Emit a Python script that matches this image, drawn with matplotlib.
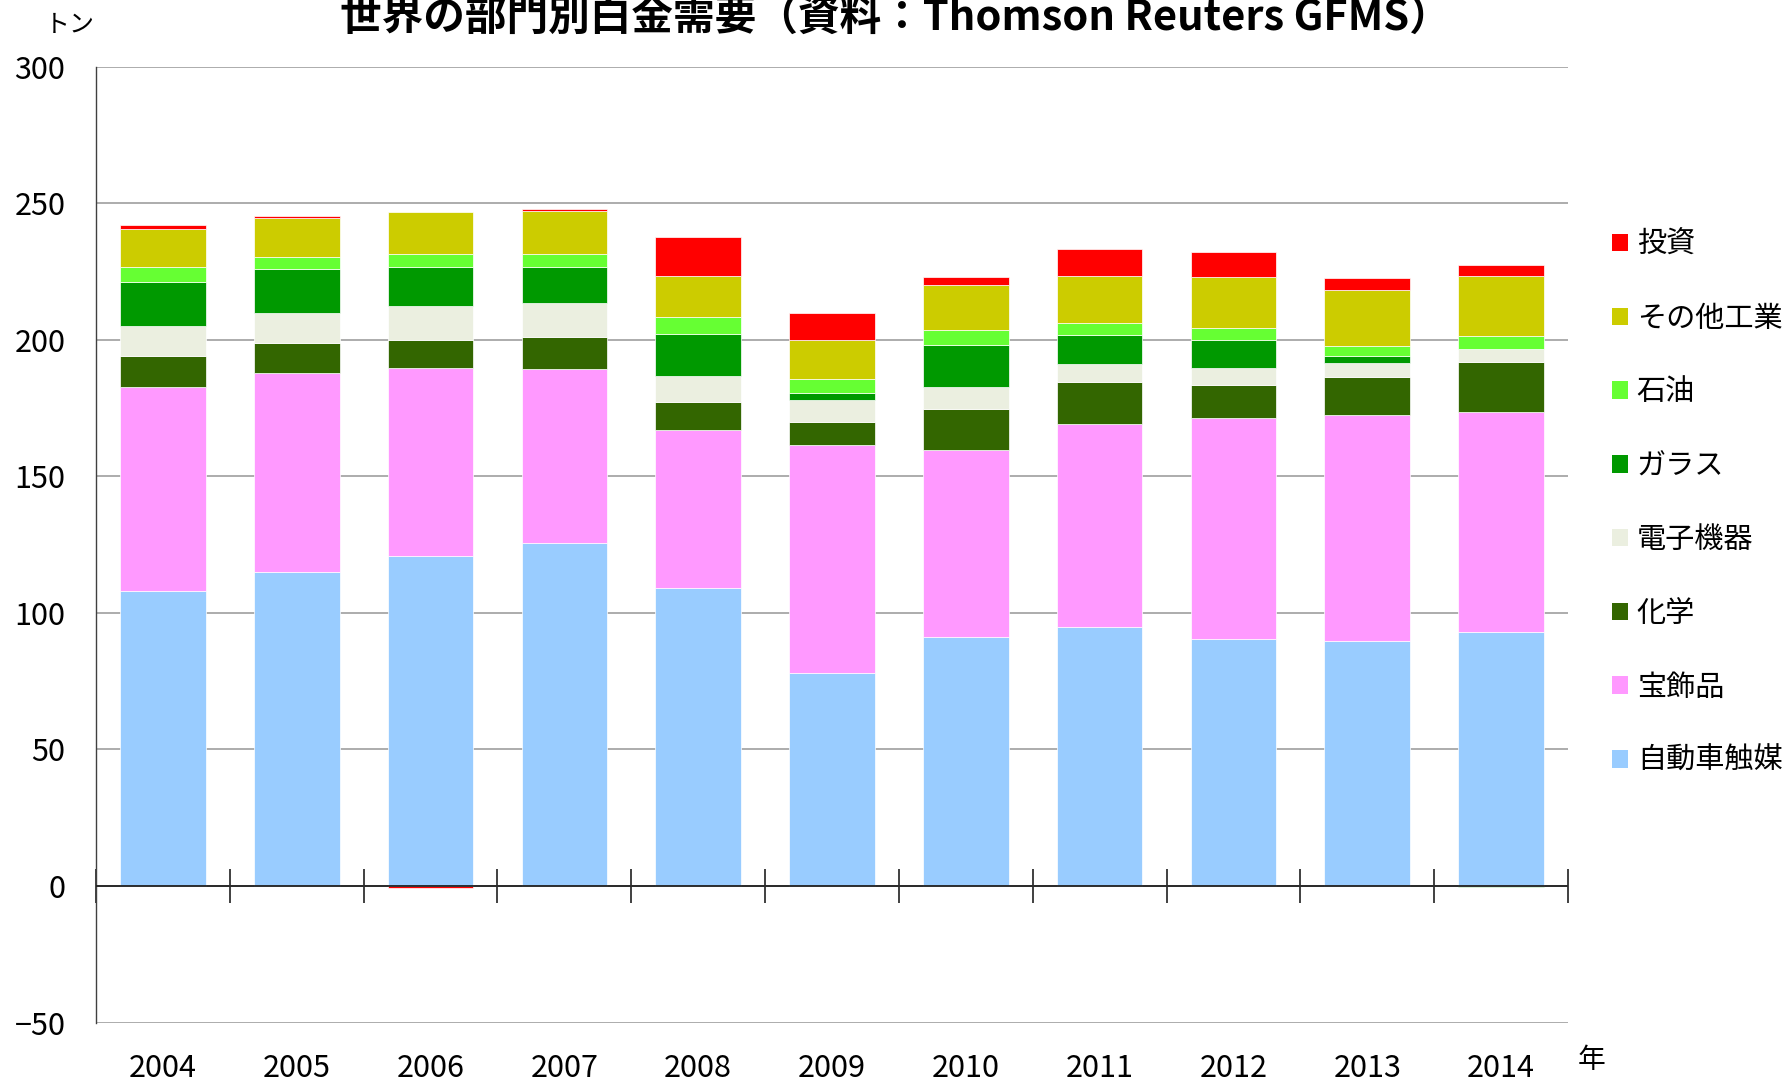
import matplotlib
matplotlib.use('Agg')
import matplotlib.pyplot as plt
import numpy as np
from matplotlib.patches import Patch

plt.rcParams['font.family'] = ['Noto Sans CJK JP', 'DejaVu Sans']

years = ['2004', '2005', '2006', '2007', '2008', '2009', '2010', '2011', '2012', '2013', '2014']

auto = [108.0, 115.1, 120.9, 125.5, 109.2, 78.0, 91.3, 94.8, 90.3, 89.9, 92.9]
jewelry = [74.6, 72.9, 68.9, 63.8, 57.6, 83.5, 68.4, 74.3, 80.9, 82.6, 80.6]
chemical = [11.6, 10.7, 10.2, 11.6, 10.6, 8.4, 15.1, 15.5, 12.4, 13.8, 18.2]
electronics = [10.8, 11.0, 12.4, 12.5, 9.2, 8.0, 7.9, 6.6, 6.2, 5.2, 5.0]
glass = [16.3, 16.1, 14.3, 13.3, 15.7, 2.7, 15.5, 10.6, 10.3, 2.4, -0.5]
oil = [5.2, 4.4, 4.9, 4.9, 6.1, 5.2, 5.4, 4.4, 4.4, 4.0, 4.7]
other = [14.2, 14.5, 15.1, 15.4, 15.1, 14.2, 16.4, 17.3, 18.6, 20.2, 22.1]
investment = [1.3, 0.5, -0.6, 0.9, 14.1, 9.7, 3.1, 9.8, 8.9, 4.5, 4.0]

series_names = ['自動車触媒', '宝飾品', '化学', '電子機器', 'ガラス', '石油', 'その他工業', '投資']
series_values = [auto, jewelry, chemical, electronics, glass, oil, other, investment]
series_colors = ['#99CCFF', '#FF99FF', '#336600', '#EBEFE0', '#009900', '#66FF33', '#CCCC00', '#FF0000']

title = '世界の部門別白金需要（資料：Thomson Reuters GFMS）'

W, H = 1791, 1081
fig = plt.figure(figsize=(W / 100, H / 100), dpi=100)
ax = fig.add_axes([96 / W, 1 - 1022.6 / H, (1568 - 96) / W, (1022.6 - 66.7) / H])

x = np.arange(len(years))
pos_bottom = np.zeros(len(years))
neg_bottom = np.zeros(len(years))
for name, vals, col in zip(series_names, series_values, series_colors):
    v = np.array(vals, dtype=float)
    b = np.where(v >= 0, pos_bottom, neg_bottom)
    ax.bar(x, v, width=0.64, bottom=b, color=col, edgecolor='white', linewidth=0.5, zorder=2)
    pos_bottom = pos_bottom + np.where(v >= 0, v, 0)
    neg_bottom = neg_bottom + np.where(v < 0, v, 0)

ax.set_xlim(-0.5, len(years) - 0.5)
ax.set_ylim(-50, 300)
ax.set_yticks(np.arange(-50, 301, 50))
ax.yaxis.grid(True, color='#A6A6A6', linewidth=1.3, zorder=0)
ax.set_axisbelow(True)

for s in ['top', 'right', 'bottom']:
    ax.spines[s].set_visible(False)
ax.spines['left'].set_color('#404040')
ax.spines['left'].set_linewidth(1.0)

ax.set_xticks(x)
ax.set_xticklabels(years)
ax.tick_params(axis='x', length=0, pad=22, labelsize=22)
ax.tick_params(axis='y', length=0, pad=22, labelsize=22)

# zero axis line with category boundary ticks
ax.axhline(0, color='#202020', linewidth=1.3, zorder=3)
sec = ax.secondary_xaxis(0, transform=ax.transData)
sec.set_xticks(np.arange(len(years) + 1) - 0.5)
sec.tick_params(direction='inout', length=24, width=1.2, color='#202020', labelbottom=False)
sec.spines['bottom'].set_visible(False)

fig.text(0.5, 1 - 19 / H, title, ha='center', va='center', fontsize=30, fontweight='bold')
fig.text(70 / W, 1 - 25 / H, 'トン', ha='center', va='center', fontsize=18)
fig.text(1592 / W, 1 - 1060 / H, '年', ha='center', va='center', fontsize=20)

handles = [Patch(facecolor=c, edgecolor='none') for c in series_colors][::-1]
labels = series_names[::-1]
fig.legend(handles, labels, loc='upper left', bbox_to_anchor=(1612 / W, 1 - 230 / H),
           frameon=False, fontsize=21, handlelength=0.55, handleheight=0.55,
           handletextpad=0.3, labelspacing=1.5, borderpad=0, borderaxespad=0)

fig.savefig('out.png', dpi=100)
